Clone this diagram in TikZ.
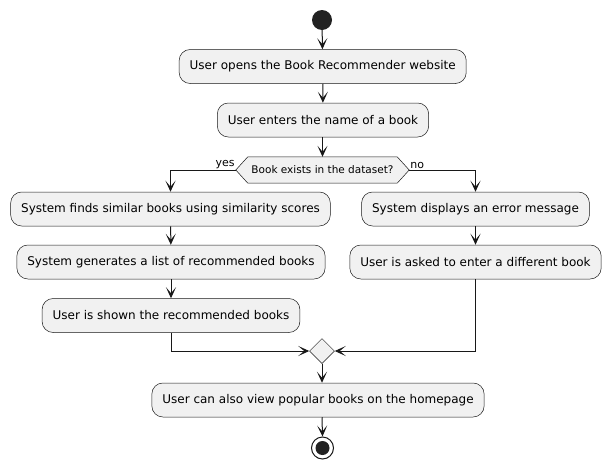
\documentclass[tikz,border=0pt]{standalone}
\usepackage{fontspec}
\setmainfont{DejaVu Sans}
\usetikzlibrary{arrows.meta,calc,shapes.geometric}
\definecolor{ln}{HTML}{181818}
\definecolor{bx}{HTML}{F1F1F1}
\definecolor{dot}{HTML}{222222}
\tikzset{
  act/.style={draw=ln, line width=0.5pt, fill=bx, rounded corners=11pt, minimum height=34pt, inner xsep=10.5pt, font=\fontsize{12}{14}\selectfont},
  flow/.style={draw=ln, line width=1pt, -{Stealth[length=11pt,width=10pt,inset=6pt]}},
  lbl/.style={font=\fontsize{11}{13}\selectfont, inner sep=1pt},
}
\begin{document}
\begin{tikzpicture}[x=1pt,y=-1pt]
\useasboundingbox (0,0) rectangle (611,469);
\fill[white] (0,0) rectangle (611,469);
\node[circle, fill=dot, minimum size=20pt, inner sep=0] (start) at (322,20) {};
\node[act] (b1) at (322.7,66.5) {User opens the Book Recommender website};
\node[act] (b2) at (323,120) {User enters the name of a book};
% decision hexagon
\node[minimum width=173pt, minimum height=26pt, inner sep=0] (dec) at (322.5,170) {};
\draw[draw=ln, line width=0.5pt, fill=bx] (dec.west) -- ($(dec.north west)+(12,0)$) -- ($(dec.north east)+(-12,0)$) -- (dec.east) -- ($(dec.south east)+(-12,0)$) -- ($(dec.south west)+(12,0)$) -- cycle;
\node[font=\fontsize{10.5}{13}\selectfont, inner sep=0] (dectext) at (dec) {Book exists in the dataset?};
\node[act] (b3) at (170.5,209) {System finds similar books using similarity scores};
\node[act] (b4) at (171,262) {System generates a list of recommended books};
\node[act] (b5) at (171,315.5) {User is shown the recommended books};
\node[act] (r1) at (475.5,209) {System displays an error message};
\node[act] (r2) at (475.5,262) {User is asked to enter a different book};
\node[diamond, draw=ln, line width=0.5pt, fill=bx, minimum size=25pt, inner sep=0] (m) at (322,351) {};
\node[act] (b6) at (318,400) {User can also view popular books on the homepage};
\node[circle, draw=ln, line width=1pt, fill=white, minimum size=22pt, inner sep=0] (end) at (322.5,448) {};
\node[circle, fill=dot, minimum size=14pt, inner sep=0] (endin) at (end) {};
% connectors
\draw[flow] (start) -- (b1);
\draw[flow] (b1) -- (b2);
\draw[flow] (b2.south -| dec.north) -- (dec.north);
\draw[flow] (dec.west) -| (b3.north);
\draw[flow] (dec.east) -| (r1.north);
\node[lbl, anchor=south east] (yes) at (dec.west) {yes};
\node[lbl, anchor=south west] (no) at (dec.east) {no};
\draw[flow] (b3) -- (b4);
\draw[flow] (b4) -- (b5);
\draw[flow] (r1) -- (r2);
\draw[flow] (b5.south) |- (m.west);
\draw[flow] (r2.south) |- (m.east);
\draw[flow] (m.south) -- (m.south |- b6.north);
\draw[flow] (m.south |- b6.south) -- (end.north);
\end{tikzpicture}
\end{document}
